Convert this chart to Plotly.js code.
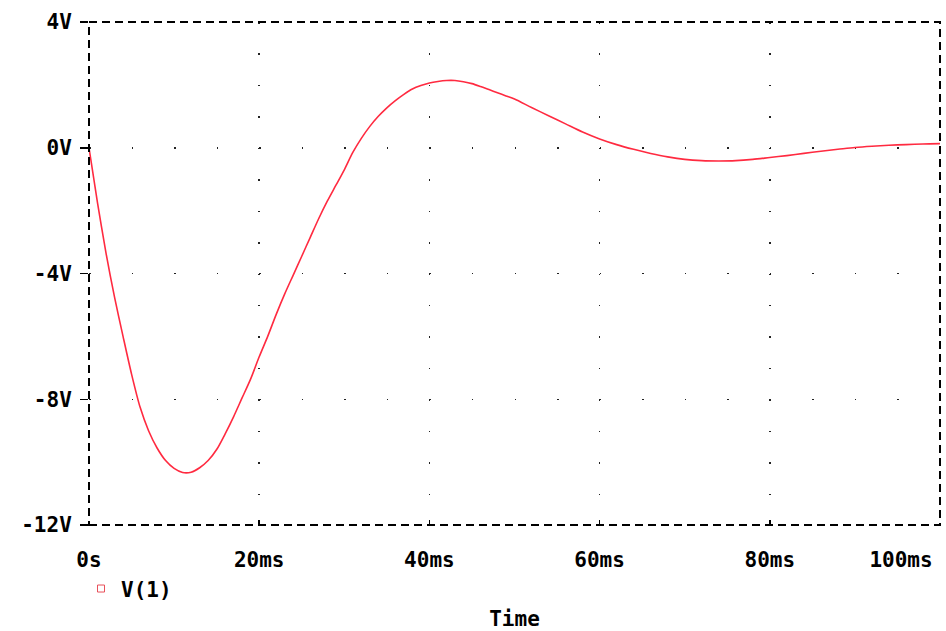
<!DOCTYPE html>
<html>
<head>
<meta charset="utf-8">
<script src="https://cdn.plot.ly/plotly-3.0.1.min.js"></script>
<style>html,body{margin:0;padding:0;background:#fff;}#chart{width:946px;height:631px;}</style>
</head>
<body>
<div id="chart"></div>
<script>
// Time in ms
const timeMs = [0,1,2,3,4,5,6,7,8,9,10,11,12,13,14,15,16,17,18,19,20,21,22,23,24,25,26,27,28,29,30,31,32,33,34,35,36,37,38,39,40,41,42,43,44,45,46,47,48,49,50,52,54,56,58,60,62,64,66,68,70,72,74,76,78,80,82,84,86,88,90,92,94,96,98,100];
// V(1) in volts
const v1 = [0,-1.75,-3.35,-4.75,-6.0,-7.2,-8.25,-9.0,-9.55,-9.95,-10.2,-10.33,-10.32,-10.18,-9.95,-9.6,-9.1,-8.55,-7.95,-7.35,-6.65,-6.0,-5.3,-4.65,-4.05,-3.45,-2.85,-2.25,-1.7,-1.2,-0.7,-0.15,0.3,0.68,1.0,1.27,1.5,1.7,1.87,1.98,2.06,2.11,2.14,2.14,2.1,2.04,1.95,1.85,1.75,1.65,1.55,1.28,1.02,0.76,0.5,0.28,0.1,-0.05,-0.18,-0.29,-0.37,-0.41,-0.42,-0.41,-0.37,-0.31,-0.25,-0.18,-0.11,-0.05,0.01,0.05,0.08,0.1,0.12,0.13];

const xTickVals = [0,20,40,60,80];
const xTickText = ['0s','20ms','40ms','60ms','80ms'];
const xEndTickVals = [100];
const xEndTickText = ['100ms'];
const yTickVals = [4,0,-4,-8,-12];
const yTickText = ['4V','0V','-4V','-8V','-12V'];
const seriesName = 'V(1)';
const xTitle = 'Time';

const font = {family: 'DejaVu Sans Mono, monospace', size: 21, color: '#000', weight: 'bold'};

const traces = [
  {x: timeMs, y: v1, type: 'scatter', mode: 'lines', line: {color: '#ff2a40', width: 1.6, shape: 'spline', smoothing: 0.8}, showlegend: false, hoverinfo: 'none'},
  {x: [null], y: [null], xaxis: 'x2', type: 'scatter', mode: 'markers', name: seriesName,
   marker: {symbol: 'square-open', size: 7, color: '#e8505a', line: {width: 1}}, showlegend: true}
];

const layout = {
  width: 946, height: 631,
  margin: {l: 89, r: 6, t: 22, b: 106},
  paper_bgcolor: '#fff', plot_bgcolor: '#fff',
  font: font,
  showlegend: true,
  legend: {orientation: 'h', x: -0.0094, xanchor: 'left', y: -0.127, yanchor: 'middle', font: font, bgcolor: 'rgba(0,0,0,0)'},
  xaxis: {
    range: [0, 100], tickvals: xTickVals, ticktext: xTickText,
    ticks: 'inside', ticklen: 5, tickcolor: '#000', tickwidth: 1.5,
    showgrid: true, gridcolor: '#222', gridwidth: 1.5, griddash: '1.5px,29.94px',
    showline: false, zeroline: false, automargin: false,
    tickfont: font, ticklabelstandoff: 20,
    title: {text: xTitle, font: font, standoff: 40}
  },
  xaxis2: {
    overlaying: 'x', anchor: 'y', side: 'bottom',
    range: [0, 100], tickvals: xEndTickVals, ticktext: xEndTickText,
    ticks: 'inside', ticklen: 5, tickcolor: '#000', tickwidth: 1.5,
    showgrid: false, showline: false, zeroline: false, automargin: false,
    tickfont: font, ticklabelstandoff: 20, ticklabelshift: -39
  },
  yaxis: {
    range: [-12, 4], tickvals: yTickVals, ticktext: yTickText,
    ticks: 'outside', ticklen: 8, tickcolor: '#000', tickwidth: 1.5,
    showgrid: true, gridcolor: '#222', gridwidth: 1.5, griddash: '1.5px,41.05px',
    showline: false, zeroline: false, automargin: false,
    tickfont: font, ticklabelstandoff: 4
  },
  shapes: [
    {type: 'rect', xref: 'paper', yref: 'paper', x0: 0, x1: 1, y0: 0, y1: 1,
     line: {color: '#000', width: 2, dash: '8px,5px'}, layer: 'above'}
  ]
};

Plotly.newPlot('chart', traces, layout, {staticPlot: true, displayModeBar: false});
</script>
</body>
</html>
